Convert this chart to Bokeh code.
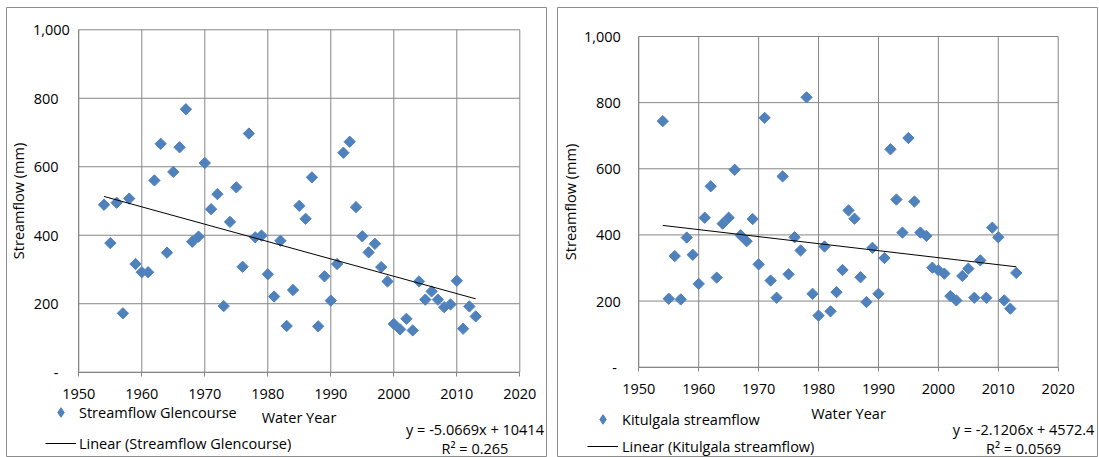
import numpy as np
from bokeh.plotting import figure
from bokeh.models import FixedTicker, Label, Legend, LegendItem, Range1d, Spacer
from bokeh.layouts import row, column
from bokeh.embed import file_html
from bokeh.resources import INLINE

# ---------------- data ----------------
years = list(range(1954, 2014))

glencourse = [489, 377, 495, 172, 507, 316, 292, 292, 560, 667,
              349, 585, 657, 768, 381, 396, 611, 476, 520, 193,
              439, 540, 308, 697, 394, 399, 286, 221, 384, 135,
              240, 486, 448, 569, 134, 280, 209, 316, 641, 673,
              482, 397, 350, 375, 307, 265, 141, 125, 156, 122,
              265, 212, 236, 212, 190, 198, 267, 127, 192, 163]

kitulgala = [744, 207, 336, 205, 392, 340, 252, 452, 547, 271,
             434, 452, 597, 399, 381, 448, 311, 754, 262, 210,
             577, 281, 393, 353, 816, 222, 156, 365, 169, 227,
             294, 474, 449, 272, 197, 361, 222, 330, 659, 507,
             407, 693, 501, 407, 397, 301, 293, 283, 215, 202,
             276, 298, 210, 323, 210, 422, 393, 202, 177, 285]

glen_slope, glen_intercept = -5.0669, 10414
kit_slope, kit_intercept = -2.1206, 4572.4

glen_eq = "y = -5.0669x + 10414"
glen_r2 = "R\u00b2 = 0.265"
kit_eq = "y = -2.1206x + 4572.4"
kit_r2 = "R\u00b2 = 0.0569"

x_ticks = [1950, 1960, 1970, 1980, 1990, 2000, 2010, 2020]
y_ticks = [0, 200, 400, 600, 800, 1000]
NB = "\u00a0"
y_labels_left = ["-" + NB * 3, "200" + NB * 3, "400" + NB * 3, "600" + NB * 3, "800" + NB * 3, "1,000"]
y_labels_right = ["-" + NB, "200", "400", "600", "800", "1,000"]

FONT = "Open Sans"
FS = "14.5px"
BLUE = "#4F81BD"
GRID = "#868686"
H = 450


def make_chart(series, slope, intercept, name, eq, r2, ylabels, width,
               area, ystandoff, ylab_standoff, xlab_standoff,
               leg_loc, leg_spacing, leg_standoff, eq_x, eq_y1, eq_y2):
    # area: pixel box of the plotting area inside the canvas (left, right, top, bottom)
    L, R, T, B = area
    x0, x1 = x_ticks[0], x_ticks[-1]
    y0, y1 = y_ticks[0], y_ticks[-1]
    sx = (R - L) / (x1 - x0)
    sy = (B - T) / (y1 - y0)
    xr = Range1d(x0 - L / sx, x1 + (width - R) / sx)
    yr = Range1d(y0 - (H - B) / sy, y1 + T / sy)

    p = figure(width=width, height=H, x_range=xr, y_range=yr, title=None,
               output_backend="svg", toolbar_location=None,
               min_border_left=0, min_border_right=0,
               min_border_top=0, min_border_bottom=0)
    p.background_fill_color = "white"
    p.border_fill_color = "white"
    p.outline_line_color = "#8c8c8c"
    p.grid.visible = False

    # grid lines of the plotting area
    p.segment(x0=x_ticks, y0=[y0] * len(x_ticks), x1=x_ticks, y1=[y1] * len(x_ticks),
              line_color=GRID, line_width=1)
    p.segment(x0=[x0] * len(y_ticks), y0=y_ticks, x1=[x1] * len(y_ticks), y1=y_ticks,
              line_color=GRID, line_width=1)

    p.xaxis.fixed_location = y0
    p.yaxis.fixed_location = x0
    p.xaxis.bounds = (x0, x1)
    p.yaxis.bounds = (y0, y1)
    p.xaxis.ticker = FixedTicker(ticks=x_ticks)
    p.yaxis.ticker = FixedTicker(ticks=y_ticks)
    p.yaxis.major_label_overrides = {t: l for t, l in zip(y_ticks, ylabels)}
    for ax in (p.xaxis, p.yaxis):
        ax.axis_line_color = GRID
        ax.major_tick_line_color = GRID
        ax.minor_tick_line_color = None
        ax.major_tick_in = 0
        ax.major_label_text_font = FONT
        ax.major_label_text_font_size = FS
        ax.major_label_text_color = "black"
        ax.axis_label_text_font = FONT
        ax.axis_label_text_font_size = FS
        ax.axis_label_text_font_style = "normal"
        ax.axis_label_text_color = "black"
    p.xaxis.major_tick_out = 4
    p.yaxis.major_tick_out = 0
    p.xaxis.major_label_standoff = 13
    p.yaxis.major_label_standoff = ystandoff
    p.xaxis.axis_label = "Water Year"
    p.yaxis.axis_label = "Streamflow (mm)"
    p.xaxis.axis_label_standoff = xlab_standoff
    p.yaxis.axis_label_standoff = ylab_standoff

    sc = p.scatter(years, series, marker="square", size=8, angle=np.pi / 4,
                   fill_color=BLUE, line_color=BLUE)
    # legend swatch: same series drawn as diamonds, hidden in the plot (legend ignores marker angle)
    swatch = p.scatter(years, series, marker="diamond", size=8,
                       fill_color=BLUE, line_color=BLUE, visible=False)
    xa, xb = min(years), max(years)
    ln = p.line([xa, xb], [slope * xa + intercept, slope * xb + intercept],
                line_color="black", line_width=1)

    legend = Legend(items=[LegendItem(label=name, renderers=[swatch]),
                           LegendItem(label="Linear (" + name + ")", renderers=[ln])],
                    location=leg_loc, orientation="vertical", padding=0, margin=0,
                    spacing=leg_spacing, glyph_width=31, glyph_height=24,
                    label_height=24, label_standoff=leg_standoff,
                    border_line_color=None, background_fill_alpha=0,
                    label_text_font=FONT, label_text_font_size=FS,
                    label_text_color="black", click_policy="none")
    p.add_layout(legend)

    for txt, yy in ((eq, eq_y1), (r2, eq_y2)):
        p.add_layout(Label(x=eq_x, y=yy, x_units="screen", y_units="screen", text=txt,
                           text_align="center", text_baseline="middle",
                           text_font=FONT, text_font_size=FS, text_color="black"))
    return p


left = make_chart(glencourse, glen_slope, glen_intercept, "Streamflow Glencourse",
                  glen_eq, glen_r2, y_labels_left, 541, (72.3, 513.3, 22.3, 364.7),
                  9, 2, 5, (39, 2), 7, 3, 468.5, 27.7, 9.3)
right = make_chart(kitulgala, kit_slope, kit_intercept, "Kitulgala streamflow",
                   kit_eq, kit_r2, y_labels_right, 541, (81.3, 500.7, 29.0, 359.7),
                   18, 1, 6, (30, -1), 3, 4, 466, 27.7, 9.3)

layout = column(Spacer(height=7), row(Spacer(width=6), left, Spacer(width=10), right))
open("out.html", "w").write(file_html(layout, INLINE))
